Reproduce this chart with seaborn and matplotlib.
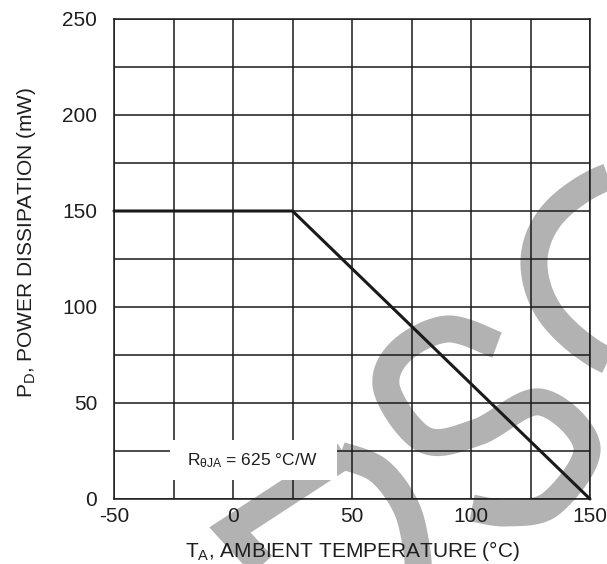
import matplotlib
matplotlib.use("Agg")
import matplotlib.pyplot as plt
import numpy as np
import seaborn as sns
from matplotlib.patches import Rectangle
from matplotlib.ticker import MultipleLocator

# Derating curve
temp_c = [-50, 25, 150]
power_mw = [150, 150, 0]

x_ticks = [-50, 0, 50, 100, 150]
y_ticks = [0, 50, 100, 150, 200, 250]

x_label = r"$\mathregular{T_A}$, AMBIENT TEMPERATURE (°C)"
y_label = r"$\mathregular{P_D}$, POWER DISSIPATION (mW)"
note = r"$\mathregular{R_{\theta JA}}$ = 625 °C/W"

# Watermark strokes (figure pixels, y pointing down)
wm_big_s = [(660, 166), (600, 180), (552, 215), (534, 260), (548, 310), (592, 352), (650, 378)]
wm_small_s = [(497, 345), (447, 329), (400, 352), (387, 390), (425, 440), (478, 432),
              (540, 402), (587, 447), (552, 503), (508, 513), (472, 508)]
wm_chevron = [(285, 590), (230, 530), (345, 455)]
wm_bowl = [(340, 455), (378, 470), (405, 505), (416, 545), (420, 590)]

sns.set_theme(style="white")
plt.rcParams["font.family"] = ["Liberation Sans", "DejaVu Sans"]
plt.rcParams["mathtext.fontset"] = "custom"
plt.rcParams["mathtext.rm"] = "Liberation Sans"
plt.rcParams["mathtext.it"] = "Liberation Sans"
plt.rcParams["axes.unicode_minus"] = False

TEXT = "#1e1e1e"
GRAY = "#b2b2b2"


def catmull_rom(pts, n=24):
    p = np.asarray(pts, dtype=float)
    p = np.vstack([p[0], p, p[-1]])
    out = []
    for i in range(1, len(p) - 2):
        p0, p1, p2, p3 = p[i - 1], p[i], p[i + 1], p[i + 2]
        t = np.linspace(0, 1, n)[:, None]
        seg = 0.5 * ((2 * p1) + (-p0 + p2) * t + (2 * p0 - 5 * p1 + 4 * p2 - p3) * t ** 2
                     + (-p0 + 3 * p1 - 3 * p2 + p3) * t ** 3)
        out.append(seg)
    return np.vstack(out)


fig = plt.figure(figsize=(6.07, 5.64), dpi=100, facecolor="white")

# watermark layer behind the chart
bg = fig.add_axes([0, 0, 1, 1])
bg.set_xlim(0, 607)
bg.set_ylim(564, 0)
bg.axis("off")
bg.set_zorder(0)
stroke = 27 * 72 / 100
for pts in (wm_big_s, wm_small_s, wm_bowl):
    c = catmull_rom(pts)
    bg.plot(c[:, 0], c[:, 1], color=GRAY, lw=stroke, solid_capstyle="butt")
ch = np.asarray(wm_chevron)
bg.plot(ch[:, 0], ch[:, 1], color=GRAY, lw=stroke, solid_capstyle="butt", solid_joinstyle="miter")

ax = fig.add_axes([114 / 607, 65 / 564, 476 / 607, 480 / 564])
ax.set_zorder(1)
ax.patch.set_alpha(0)

sns.lineplot(x=temp_c, y=power_mw, ax=ax, color="#1a1a1a", linewidth=2.2, zorder=5)
ax.lines[-1].set_clip_on(False)

ax.set_xlim(-50, 150)
ax.set_ylim(0, 250)
ax.set_xticks(x_ticks)
ax.set_yticks(y_ticks)
ax.xaxis.set_minor_locator(MultipleLocator(25))
ax.yaxis.set_minor_locator(MultipleLocator(25))
ax.grid(True, which="both", color="#1a1a1a", linewidth=1.1)
ax.set_axisbelow(True)
for s in ax.spines.values():
    s.set_color("#1a1a1a")
    s.set_linewidth(1.1)

ax.tick_params(axis="both", which="both", length=0, labelsize=15, colors=TEXT)
ax.tick_params(axis="y", pad=12)
ax.tick_params(axis="x", pad=6)

ax.set_xlabel(x_label, fontsize=15, color=TEXT)
ax.set_ylabel(y_label, fontsize=15, color=TEXT)
ax.xaxis.set_label_coords(0.5, -0.083)
ax.yaxis.set_label_coords(-0.16, 0.535)

# white label box over the grid
ax.add_patch(Rectangle((-26.5, 9.9), 70.2, 20.8, facecolor="white", edgecolor="none", zorder=3))
ax.text(8.0, 19.8, note, fontsize=12.5, color=TEXT, ha="center", va="center", zorder=4)

fig.savefig("out.png", dpi=100, facecolor="white")
